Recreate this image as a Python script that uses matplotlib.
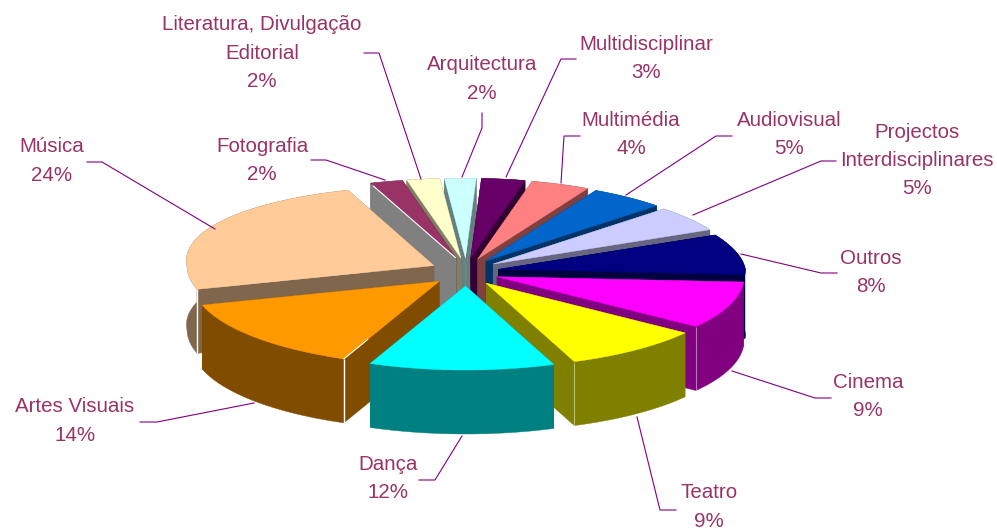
import numpy as np
import matplotlib
matplotlib.use("Agg")
import matplotlib.pyplot as plt
from matplotlib.patches import Polygon

categories = ["Outros", "Cinema", "Teatro", "Dança", "Artes Visuais", "Música", "Fotografia",
              "Literatura, Divulgação\nEditorial", "Arquitectura", "Multidisciplinar",
              "Multimédia", "Audiovisual", "Projectos\nInterdisciplinares"]
values = [8, 9, 9, 12, 14, 24, 2, 2, 2, 3, 4, 5, 5]
top_colors = ["#000080", "#FF00FF", "#FFFF00", "#00FFFF", "#FF9900", "#FFCC99", "#993366",
              "#FFFFCC", "#CCFFFF", "#660066", "#FF8080", "#0066CC", "#CCCCFF"]

# label centre x, y of first line, then the leader polyline
label_pos = {
    "Outros": (871, 258, [(837, 273), (821, 273), (741, 254)]),
    "Cinema": (868, 382, [(831, 398), (815, 398), (732, 371)]),
    "Teatro": (709, 493, [(676, 510), (660, 510), (637, 417)]),
    "Dança": (388, 464, [(419, 480), (435, 480), (462, 436)]),
    "Artes Visuais": (75, 407, [(140, 422), (157, 422), (254, 403)]),
    "Música": (52, 147, [(87, 162), (102, 162), (215, 229)]),
    "Fotografia": (262, 146, [(311, 160), (326, 160), (385, 180)]),
    "Literatura, Divulgação\nEditorial": (262, 25, [(364, 53), (379, 53), (421, 179)]),
    "Arquitectura": (482, 65, [(482, 113), (482, 128), (462, 177)]),
    "Multidisciplinar": (646, 44, [(576, 59), (561, 59), (506, 177)]),
    "Multimédia": (631, 120, [(580, 136), (564, 136), (561, 183)]),
    "Audiovisual": (789, 120, [(732, 136), (716, 136), (626, 195)]),
    "Projectos\nInterdisciplinares": (917, 132, [(836, 161), (821, 161), (693, 215)]),
}

TEXT_COLOR = "#993366"
LINE_COLOR = "#800080"
CX, CY = 466, 272
RX, RY = 247, 84
EX_LEFT, EX_RIGHT, EY = 36, 33, 14
DEPTH = 64
START = 64.5


def darken(col):
    r, g, b, _ = matplotlib.colors.to_rgba(col)
    return (r / 2, g / 2, b / 2)


# rim point relative to the apex, the back half leans left and is a bit flatter
def rim_pt(phi):
    a = np.radians(phi)
    x, y = np.sin(a) * RX, -np.cos(a) * RY
    if y < 0:
        x += 16 * abs(np.sin(a)) * y / RY
        y *= 0.95
    return x, y


fig = plt.figure(figsize=(9.97, 5.30), dpi=100)
ax = fig.add_axes([0, 0, 1, 1])
ax.set_xlim(0, 997)
ax.set_ylim(530, 0)
ax.axis("off")

# work out the wedges first, then paint from the back to the front
total = sum(values)
wedges = []
phi = START
for name, v, col in zip(categories, values, top_colors):
    span = v / total * 360
    wedges.append((name, phi, phi + span, col))
    phi += span
wedges.sort(key=lambda w: -np.cos(np.radians((w[1] + w[2]) / 2)))

for name, p0, p1, col in wedges:
    mid = np.radians((p0 + p1) / 2)
    ex = EX_LEFT if np.sin(mid) < 0 else EX_RIGHT
    ox, oy = CX + np.sin(mid) * ex, CY - np.cos(mid) * EY
    rim = [(ox + rim_pt(a)[0], oy + rim_pt(a)[1]) for a in np.linspace(p0, p1, 60)]
    low = [(x, y + DEPTH) for x, y in rim]
    side = darken(col)

    # cut faces, Fotografia shows a grey wall in the original
    first_col = "#808080" if name == "Fotografia" else side
    ax.add_patch(Polygon([(ox, oy), rim[-1], low[-1], (ox, oy + DEPTH)], fc=side, ec=side, lw=0.3))
    # outer face
    ax.add_patch(Polygon(rim + low[::-1], fc=first_col, ec=first_col, lw=0.3))
    ax.add_patch(Polygon([(ox, oy), rim[0], low[0], (ox, oy + DEPTH)], fc=first_col, ec=first_col, lw=0.3))
    # top
    ax.add_patch(Polygon([(ox, oy)] + rim, fc=col, ec=col, lw=0.3))

    if name == "Fotografia":
        ax.plot([rim[0][0] + 3, ox - 1], [rim[0][1] + 3, oy - 1], color="white", lw=0.8)

    # pale line on the corner nearest the viewer
    if name in ("Artes Visuais", "Música"):
        x, y = rim[0]
        ax.plot([x, x], [y, y + DEPTH], color="white", lw=1.0, solid_capstyle="butt")
        if name == "Artes Visuais":
            ax.plot([x, x + (ox - x) * 0.25], [y, y + (oy - y) * 0.25], color="white", lw=0.8)
    elif name in ("Teatro", "Cinema"):
        x, y = rim[-1]
        ax.plot([x, x], [y, y + DEPTH], color="white", lw=0.8, alpha=0.45, solid_capstyle="butt")

for name, v in zip(categories, values):
    x, y, leader = label_pos[name]
    ax.plot([p[0] for p in leader], [p[1] for p in leader], color=LINE_COLOR, lw=0.8, zorder=1)
    lines = name.split("\n") + [f"{v}%"]
    for i, line in enumerate(lines):
        ax.text(x, y + i * 28.4, line, ha="center", va="center", color=TEXT_COLOR,
                fontsize=14.8, family="Liberation Sans")

fig.savefig("out.png", dpi=100)
